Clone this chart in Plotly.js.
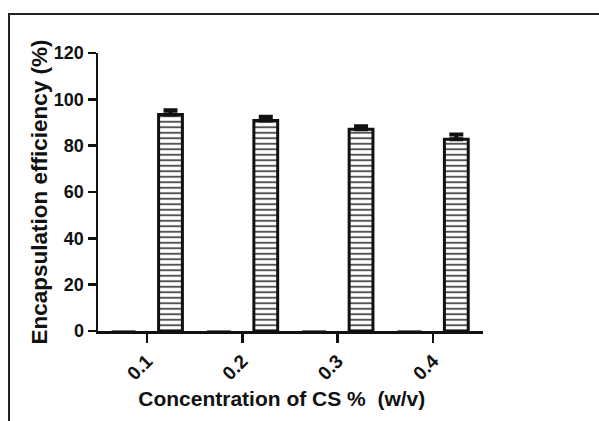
<!DOCTYPE html>
<html>
<head>
<meta charset="utf-8">
<script src="https://cdn.plot.ly/plotly-3.0.1.min.js"></script>
<style>
  html, body { margin: 0; padding: 0; background: #fff; overflow: hidden; }
  #wrap { position: relative; width: 599px; height: 421px; }
  #chart { position: absolute; left: 0; top: 0; width: 599px; height: 421px; }
  #frame { position: absolute; left: 8px; top: 13px; width: 600px; height: 420px;
           border: 2px solid #222; box-sizing: border-box; pointer-events: none; }
</style>
</head>
<body>
<div id="wrap">
  <div id="chart"></div>
  <div id="frame"></div>
</div>
<script>
// Data
const categories = ['0.1', '0.2', '0.3', '0.4'];
const blankSeries = [0, 0, 0, 0];
const efficiency = [93.5, 90.9, 87.1, 82.8];
const efficiencyErr = [1.8, 1.6, 1.3, 2.0];

const FONT = '"Liberation Sans", Arial, Helvetica, sans-serif';

const barLine = { color: '#111', width: 3 };

const traces = [
  {
    type: 'bar',
    x: categories,
    y: blankSeries,
    width: 0.25,
    offset: -0.371,
    marker: { color: 'white', line: { color: '#444', width: 1 } },
    hoverinfo: 'skip'
  },
  {
    type: 'bar',
    x: categories,
    y: efficiency,
    width: 0.25,
    offset: 0.121,
    marker: {
      color: 'white',
      line: barLine,
      pattern: { shape: '-', size: 5.5, solidity: 0.36, fgcolor: '#555', bgcolor: 'white', fillmode: 'replace' }
    },
    error_y: {
      type: 'data',
      symmetric: false,
      array: efficiencyErr,
      arrayminus: [0, 0, 0, 0],
      color: '#111',
      thickness: 4,
      width: 7
    }
  }
];

const layout = {
  width: 599,
  height: 421,
  margin: { l: 98, r: 116, t: 53, b: 89.5, pad: 0 },
  paper_bgcolor: 'white',
  plot_bgcolor: 'white',
  showlegend: false,
  barmode: 'group',
  font: { family: FONT, color: '#111' },
  xaxis: {
    type: 'category',
    range: [-0.515, 3.526],
    showgrid: false,
    zeroline: false,
    showline: true,
    linecolor: '#111',
    linewidth: 2.5,
    ticks: 'outside',
    ticklen: 9,
    tickwidth: 2.5,
    tickcolor: '#111',
    tickangle: -45,
    tickfont: { family: FONT, size: 19, color: '#111', weight: 'bold' },
    title: {
      text: '<b>Concentration of CS %  (w/v)</b>&nbsp;&nbsp;&nbsp;',
      font: { family: FONT, size: 21, color: '#111' },
      standoff: 9
    },
    fixedrange: true
  },
  yaxis: {
    range: [0, 120],
    tickvals: [0, 20, 40, 60, 80, 100, 120],
    showgrid: false,
    zeroline: false,
    showline: true,
    linecolor: '#111',
    linewidth: 2.5,
    ticks: 'outside',
    ticklen: 8,
    tickwidth: 2.5,
    tickcolor: '#111',
    tickfont: { family: FONT, size: 18, color: '#111', weight: 'bold' },
    title: {
      text: '<b>Encapsulation efficiency (%)</b>',
      font: { family: FONT, size: 22.5, color: '#111' },
      standoff: 0
    },
    fixedrange: true
  }
};

Plotly.newPlot('chart', traces, layout, { displayModeBar: false, staticPlot: true });
</script>
</body>
</html>
